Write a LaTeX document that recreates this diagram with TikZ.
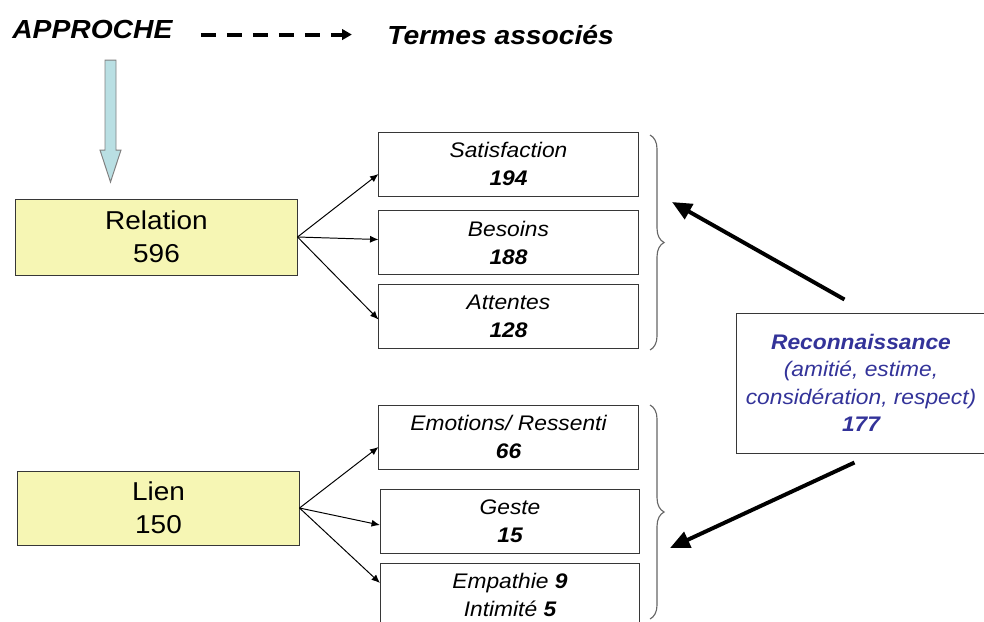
\documentclass[tikz,border=0pt]{standalone}
\usepackage{fontspec}
\setmainfont[FakeStretch=1.08]{Liberation Sans}
\usetikzlibrary{arrows.meta,calc,decorations.pathreplacing}
\definecolor{jaune}{RGB}{246,246,180}
\definecolor{bleuclair}{RGB}{185,223,227}
\definecolor{bleufonce}{RGB}{51,51,153}
\definecolor{bord}{RGB}{55,55,55}

\begin{document}
\begin{tikzpicture}[x=0.025cm,y=-0.025cm]
		\tikzstyle{titre}=[font=\fontsize{18.6}{21}\selectfont\bfseries\itshape, inner sep=0pt]
		\tikzstyle{approchebox}=[draw=bord, line width=0.7pt, fill=jaune, minimum width=7.025cm, minimum height=1.9cm, align=center, font=\fontsize{18.4}{23.5}\selectfont]
		\tikzstyle{terme}=[draw=bord, line width=0.7pt, minimum width=6.475cm, minimum height=1.6cm, align=center, font=\fontsize{15}{19.9}\selectfont\itshape]
		\tikzstyle{fleche}=[line width=0.7pt, -{Latex[length=6pt,width=5pt]}]
		\tikzstyle{grossefleche}=[line width=2.8pt, -{Triangle[length=14pt,width=12pt]}]
		\tikzstyle{tirets}=[line width=2.8pt, dash pattern=on 10.7pt off 7.8pt, -{Triangle[length=7pt,width=7.5pt]}]
		\tikzstyle{accolade}=[draw=gray!80!black, line width=0.8pt, decorate, decoration={brace, amplitude=10pt}]
		
		\useasboundingbox (0,0) rectangle (984,621);
		\clip (0,0) rectangle (984,621);
		
		% en-tete
		\node[titre, anchor=base west] (approche) at (12,38) {APPROCHE};
		\node[titre, anchor=base west] (termes) at (387,44) {Termes associés};
		\draw[tirets, shorten <=20pt, shorten >=25pt] (approche.east |- termes.west) -- (termes.west);
		
		% fleche bleue
		\draw[draw=gray, fill=bleuclair, line width=0.7pt] (105,60) -- (116,60) -- (116,150) -- (121,150) -- (110.5,182) -- (100,150) -- (105,150) -- cycle;
		
		% approches
		\node[approchebox] (relation) at (156.5,237) {Relation\\596};
		\node[approchebox, minimum height=1.85cm] (lien) at (158.5,508) {Lien\\150};
		
		% termes associes
		\node[terme] (satisf) at (508.5,164) {Satisfaction\\\textbf{194}};
		\node[terme] (besoins) at (508.5,242.5) {Besoins\\\textbf{188}};
		\node[terme] (attentes) at (508.5,316.5) {Attentes\\\textbf{128}};
		\node[terme] (emotions) at (508.5,437) {Emotions/ Ressenti\\\textbf{66}};
		\node[terme] (geste) at (510,521) {Geste\\\textbf{15}};
		\node[terme] (empathie) at (510,595) {Empathie \textbf{9}\\Intimité \textbf{5}};
		
		\draw[fleche] (relation.east) -- ($(satisf.west)+(0,10)$);
		\draw[fleche] (relation.east) -- ($(besoins.west)+(0,-3)$);
		\draw[fleche] (relation.east) -- ($(attentes.west)+(0,3)$);
		\draw[fleche] (lien.east) -- ($(emotions.west)+(0,10)$);
		\draw[fleche] (lien.east) -- ($(geste.west)+(0,4)$);
		\draw[fleche] (lien.east) -- ($(empathie.west)+(0,-12)$);
		
		% accolades
		\draw[accolade] (650,135) -- (650,350);
		\draw[accolade] (650,405) -- (650,619);
		
		% reconnaissance
		\node[draw=bord, line width=0.7pt, minimum width=6.2cm, minimum height=3.5cm, inner xsep=1pt, align=center, text=bleufonce, font=\fontsize{15}{19.5}\selectfont\itshape] (reco) at (861,383) {\textbf{Reconnaissance}\\(amitié, estime,\\considération, respect)\\\textbf{177}};
		
		\coordinate (pointe1) at (672,202);
		\coordinate (pointe2) at (670,548);
		\draw[grossefleche] ($(reco.north west)+(108,-13)$) -- (pointe1);
		\draw[grossefleche] ($(reco.south west)+(118,9)$) -- (pointe2);
		
\end{tikzpicture}
\end{document}
